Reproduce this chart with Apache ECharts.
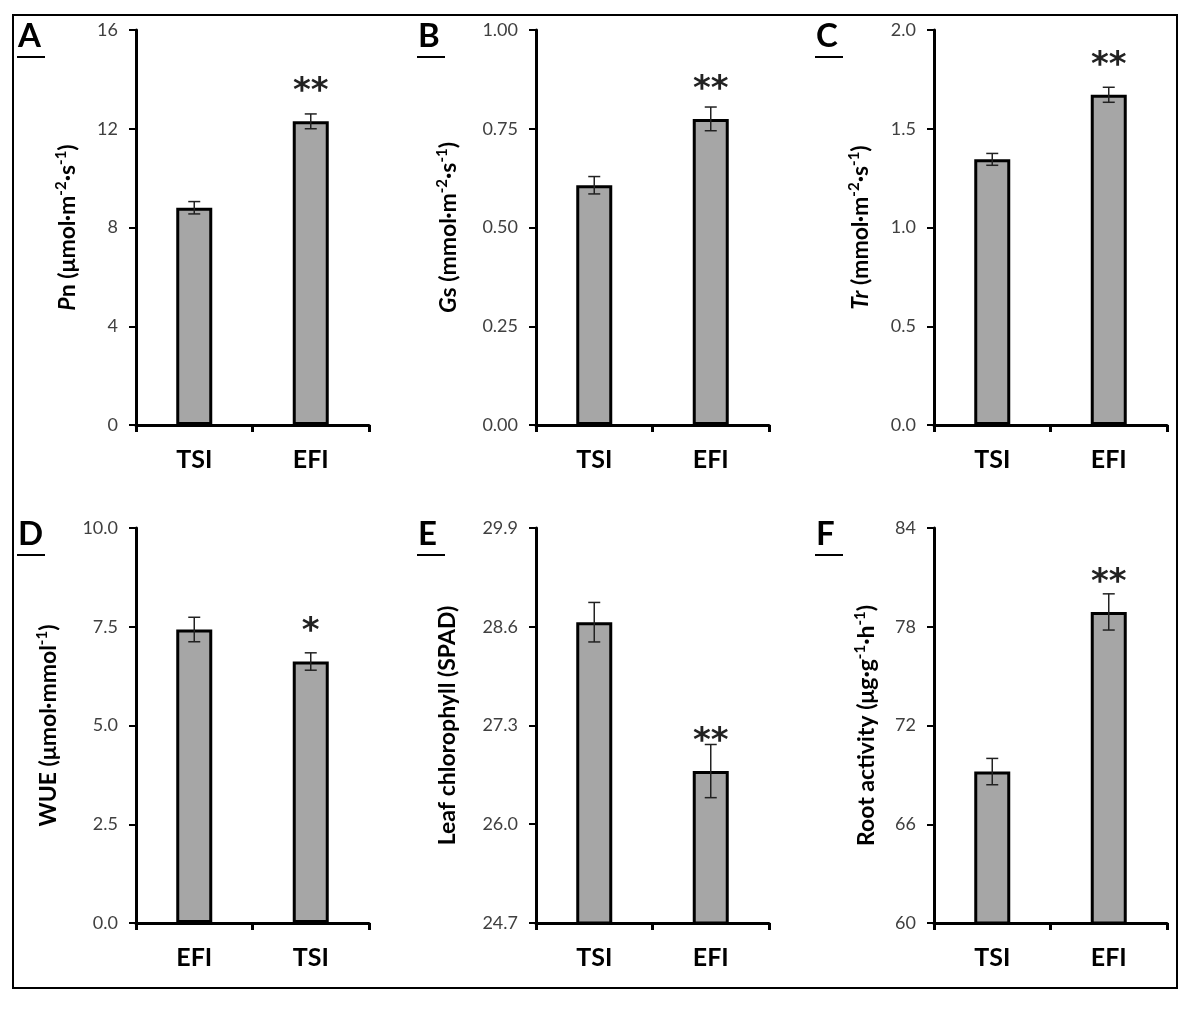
<!DOCTYPE html>
<html>
<head>
<meta charset="utf-8">
<script src="https://cdn.jsdelivr.net/npm/echarts@6/dist/echarts.min.js"></script>
<style>
  html, body { margin: 0; padding: 0; background: #fff; }
  #chart { width: 1198px; height: 1010px; }
</style>
</head>
<body>
<div id="chart"></div>
<script>
// categories per panel
var catsTop = ['TSI', 'EFI'];
var catsWue = ['EFI', 'TSI'];

// A: Pn
var pnMean = [8.8, 12.3];
var pnErr = [0.25, 0.3];
var pnSig = ['', '**'];
// B: Gs
var gsMean = [0.607, 0.775];
var gsErr = [0.022, 0.03];
var gsSig = ['', '**'];
// C: Tr
var trMean = [1.345, 1.672];
var trErr = [0.03, 0.038];
var trSig = ['', '**'];
// D: WUE
var wueMean = [7.43, 6.62];
var wueErr = [0.31, 0.22];
var wueSig = ['', '*'];
// E: leaf chlorophyll
var chlMean = [28.66, 26.70];
var chlErr = [0.26, 0.35];
var chlSig = ['', '**'];
// F: root activity
var rootMean = [69.2, 78.9];
var rootErr = [0.8, 1.1];
var rootSig = ['', '**'];

// y axis ranges / ticks
var axA = { min: 0, max: 16, interval: 4, digits: 0 };
var axB = { min: 0, max: 1, interval: 0.25, digits: 2 };
var axC = { min: 0, max: 2, interval: 0.5, digits: 1 };
var axD = { min: 0, max: 10, interval: 2.5, digits: 1 };
var axE = { min: 24.7, max: 29.9, interval: 1.3, digits: 1 };
var axF = { min: 60, max: 84, interval: 6, digits: 0 };

var FONT = 'Lato';
var sup = { fontFamily: FONT, fontWeight: 'bold', fontSize: 15, color: '#000', verticalAlign: 'top', lineHeight: 15 };
var b = { fontFamily: FONT, fontWeight: 'bold', fontSize: 23, color: '#000', lineHeight: 28 };
var bi = { fontFamily: FONT, fontWeight: 'bold', fontStyle: 'italic', fontSize: 23, color: '#000', lineHeight: 28 };
var nameRich = { b: b, bi: bi, sup: sup };

var panels = [
  { letter: 'A', cats: catsTop, mean: pnMean, err: pnErr, sig: pnSig, ax: axA, left: 136, top: 30, gap: 54,
    name: '{bi|P}{b|n (μmol·m}{sup|-2}{b|·s}{sup|-1}{b|)}' },
  { letter: 'B', cats: catsTop, mean: gsMean, err: gsErr, sig: gsSig, ax: axB, left: 536, top: 30, gap: 73,
    name: '{bi|G}{b|s (mmol·m}{sup|-2}{b|·s}{sup|-1}{b|)}' },
  { letter: 'C', cats: catsTop, mean: trMean, err: trErr, sig: trSig, ax: axC, left: 934, top: 30, gap: 59,
    name: '{bi|Tr}{b| (mmol·m}{sup|-2}{b|·s}{sup|-1}{b|)}' },
  { letter: 'D', cats: catsWue, mean: wueMean, err: wueErr, sig: wueSig, ax: axD, left: 136, top: 528, gap: 73,
    name: '{b|WUE (μmol·mmol}{sup|-1}{b|)}' },
  { letter: 'E', cats: catsTop, mean: chlMean, err: chlErr, sig: chlSig, ax: axE, left: 536, top: 528, gap: 74,
    name: '{b|Leaf chlorophyll (SPAD)}' },
  { letter: 'F', cats: catsTop, mean: rootMean, err: rootErr, sig: rootSig, ax: axF, left: 934, top: 528, gap: 53,
    name: '{b|Root activity (μg·g}{sup|-1}{b|·h}{sup|-1}{b|)}' }
];

var grids = [], xAxes = [], yAxes = [], series = [], graphics = [];

panels.forEach(function (p, i) {
  grids.push({ left: p.left, top: p.top, width: 233, height: 395 });
  xAxes.push({
    type: 'category', gridIndex: i, data: p.cats,
    axisLine: { lineStyle: { color: '#000', width: 3 } },
    axisTick: { show: true, length: 7, lineStyle: { color: '#000', width: 3 } },
    axisLabel: { color: '#000', fontFamily: FONT, fontWeight: 'bold', fontSize: 25, margin: 22 }
  });
  yAxes.push({
    type: 'value', gridIndex: i, min: p.ax.min, max: p.ax.max, interval: p.ax.interval,
    splitLine: { show: false },
    axisLine: { show: true, lineStyle: { color: '#000', width: 3 } },
    axisTick: { show: true, length: 7, lineStyle: { color: '#000', width: 2 } },
    axisLabel: {
      color: '#404040', fontFamily: FONT, fontSize: 18, margin: 18,
      formatter: (function (d) { return function (v) { return v.toFixed(d); }; })(p.ax.digits)
    },
    name: p.name, nameLocation: 'middle', nameRotate: 90, nameGap: p.gap,
    nameTextStyle: { rich: nameRich }
  });
  series.push({
    type: 'bar', xAxisIndex: i, yAxisIndex: i, barWidth: 36,
    data: p.mean,
    itemStyle: { color: '#a6a6a6', borderColor: '#000', borderWidth: 3 },
    label: {
      show: true, position: 'top', distance: 12,
      fontFamily: 'DejaVu Sans', fontWeight: 'bold', fontSize: 34, color: '#222',
      formatter: (function (s) { return function (o) { return s[o.dataIndex]; }; })(p.sig)
    },
    silent: true
  });
  series.push({
    type: 'custom', xAxisIndex: i, yAxisIndex: i, z: 5, silent: true,
    data: p.mean.map(function (m, k) { return [k, m - p.err[k], m + p.err[k]]; }),
    renderItem: function (params, api) {
      var lo = api.coord([api.value(0), api.value(1)]);
      var hi = api.coord([api.value(0), api.value(2)]);
      var w = 6;
      var st = { stroke: '#222', lineWidth: 1.5 };
      return {
        type: 'group',
        children: [
          { type: 'line', shape: { x1: hi[0], y1: hi[1], x2: lo[0], y2: lo[1] }, style: st },
          { type: 'line', shape: { x1: hi[0] - w, y1: hi[1], x2: hi[0] + w, y2: hi[1] }, style: st },
          { type: 'line', shape: { x1: lo[0] - w, y1: lo[1], x2: lo[0] + w, y2: lo[1] }, style: st }
        ]
      };
    }
  });
  // panel letter with underline
  var lx = p.left - 118, ly = p.top - 10;
  graphics.push({
    type: 'text', left: lx, top: ly,
    style: { text: p.letter, fontFamily: FONT, fontWeight: 'bold', fontSize: 33, fill: '#000' }
  });
  graphics.push({
    type: 'line', shape: { x1: lx - 1, y1: p.top + 27, x2: lx + 27, y2: p.top + 27 },
    style: { stroke: '#000', lineWidth: 2 }
  });
});

// outer frame
graphics.push({
  type: 'rect', shape: { x: 13, y: 15, width: 1164, height: 973 },
  style: { fill: null, stroke: '#000', lineWidth: 2 }
});

var chart = echarts.init(document.getElementById('chart'));
chart.setOption({
  animation: false,
  backgroundColor: '#fff',
  grid: grids,
  xAxis: xAxes,
  yAxis: yAxes,
  series: series,
  graphic: graphics
});
</script>
</body>
</html>
